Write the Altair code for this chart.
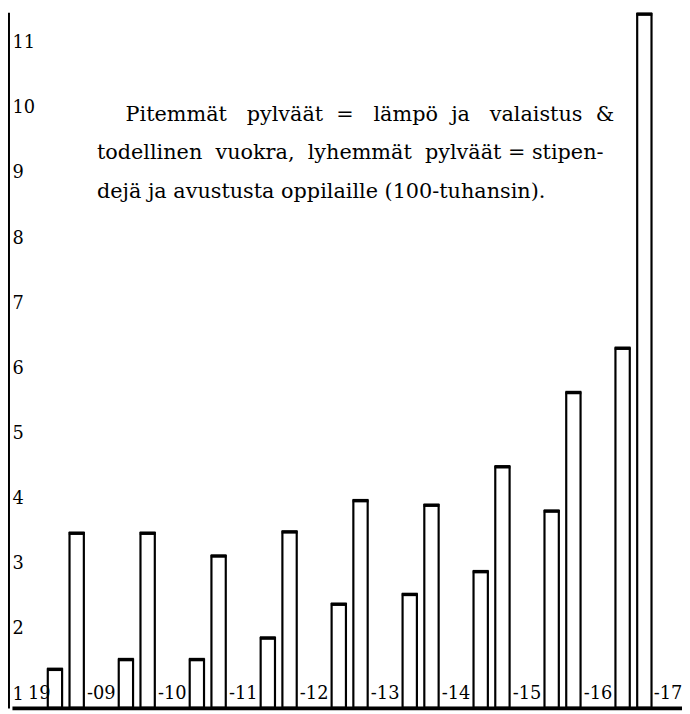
import altair as alt
import pandas as pd

# ---- data ----
periods = ["1908-09", "1909-10", "1910-11", "1911-12", "1912-13",
           "1913-14", "1914-15", "1915-16", "1916-17"]
boundary_labels = ["19", "-09", "-10", "-11", "-12", "-13", "-14", "-15", "-16", "-17"]
# longer bars: lämpö ja valaistus & todellinen vuokra (100-tuhansin)
heat_light_rent = [3.47, 3.47, 3.12, 3.49, 3.97, 3.90, 4.49, 5.63, 11.44]
# shorter bars: stipendejä ja avustusta oppilaille (100-tuhansin)
stipends = [1.38, 1.53, 1.53, 1.86, 2.38, 2.53, 2.88, 3.81, 6.31]
y_ticks = [1, 2, 3, 4, 5, 6, 7, 8, 9, 10, 11]
note_line1_words = ["Pitemmät", "pylväät", "=", "lämpö", "ja", "valaistus", "&"]
note_line2_words = ["todellinen", "vuokra,", "lyhemmät", "pylväät", "=", "stipen-"]
note_line3 = "dejä ja avustusta oppilaille (100-tuhansin)."
series_order = ["stipendit", "lämpö ja vuokra"]
Y_DOMAIN = [0.788, 11.47]

rows = []
for p, s, t in zip(periods, stipends, heat_light_rent):
    rows.append({"period": p, "series": series_order[0], "value": s})
    rows.append({"period": p, "series": series_order[1], "value": t})
df = pd.DataFrame(rows)

FONT = "DejaVu Serif"

x_scale = alt.Scale(domain=periods, paddingInner=0, paddingOuter=0.2214, align=0.585)
y_scale = alt.Scale(domain=Y_DOMAIN, nice=False, zero=False)
xoff_scale = alt.Scale(domain=series_order, paddingInner=0.341, paddingOuter=0.8025)

x_axis = alt.Axis(title=None, labels=False, ticks=False, grid=False,
                  domainColor="black", domainWidth=4, zindex=1)
y_axis = alt.Axis(title=None, values=y_ticks, format="d", ticks=False, tickSize=0,
                  grid=False, domainColor="black", domainWidth=3, offset=4,
                  labelAlign="left", labelPadding=-4, labelBaseline="middle",
                  labelFont=FONT, labelFontSize=18, labelColor="black",
                  labelFlush=False, labelOverlap=False, zindex=1)

bars = alt.Chart(df).mark_bar(fill="white", stroke="black", strokeWidth=2.2).encode(
    x=alt.X("period:N", scale=x_scale, sort=periods, axis=x_axis),
    xOffset=alt.XOffset("series:N", scale=xoff_scale, sort=series_order),
    y=alt.Y("value:Q", scale=y_scale, axis=y_axis),
    y2=alt.datum(Y_DOMAIN[0]),
)

caps = alt.Chart(df).mark_tick(color="black", thickness=3.5, size=16, opacity=1).encode(
    x=alt.X("period:N", sort=periods),
    xOffset=alt.XOffset("series:N", sort=series_order),
    y=alt.Y("value:Q"),
)

first_df = pd.DataFrame({"period": [periods[0]], "label": [boundary_labels[0]]})
mid_df = pd.DataFrame({"period": periods[1:], "label": boundary_labels[1:-1]})
last_df = pd.DataFrame({"period": [periods[-1]], "label": [boundary_labels[-1]]})

def period_text(data, band_pos, dx=0):
    return alt.Chart(data).mark_text(
        font=FONT, fontSize=18, color="black", align="center", baseline="middle", dx=dx
    ).encode(
        x=alt.X("period:N", sort=periods, bandPosition=band_pos),
        y=alt.datum(1),
        text="label:N",
    )

period_labels = (period_text(first_df, 0, dx=9) + period_text(mid_df, 0)
                 + period_text(last_df, 1, dx=-1))

def note(text, x, y):
    return alt.Chart(pd.DataFrame({"t": [text]})).mark_text(
        font=FONT, fontSize=21, color="black", align="left", baseline="middle",
        x=x, y=y,
    ).encode(text="t:N")

def justify(words, wide_gaps):
    out = words[0]
    for i, w in enumerate(words[1:]):
        out += ("\u00a0\u00a0\u00a0" if i in wide_gaps else "\u00a0\u00a0") + w
    return out

line1 = justify(note_line1_words, {0, 2, 4})
line2 = (note_line2_words[0] + "\u00a0\u00a0" + "\u00a0\u00a0".join(note_line2_words[1:4])
         + "\u00a0" + " ".join(note_line2_words[4:]))
notes = note(line1, 115, 104) + note(line2, 86, 143) + note(note_line3, 86, 182)

chart = alt.layer(bars, caps, period_labels, notes).properties(
    width=678, height=704,
    padding={"left": 4, "top": 0, "right": 0, "bottom": 4},
    autosize=alt.AutoSizeParams(type="none"),
    background="white",
).configure_view(stroke=None)

chart.save("out.html", embed_options={"renderer": "svg", "actions": False})
